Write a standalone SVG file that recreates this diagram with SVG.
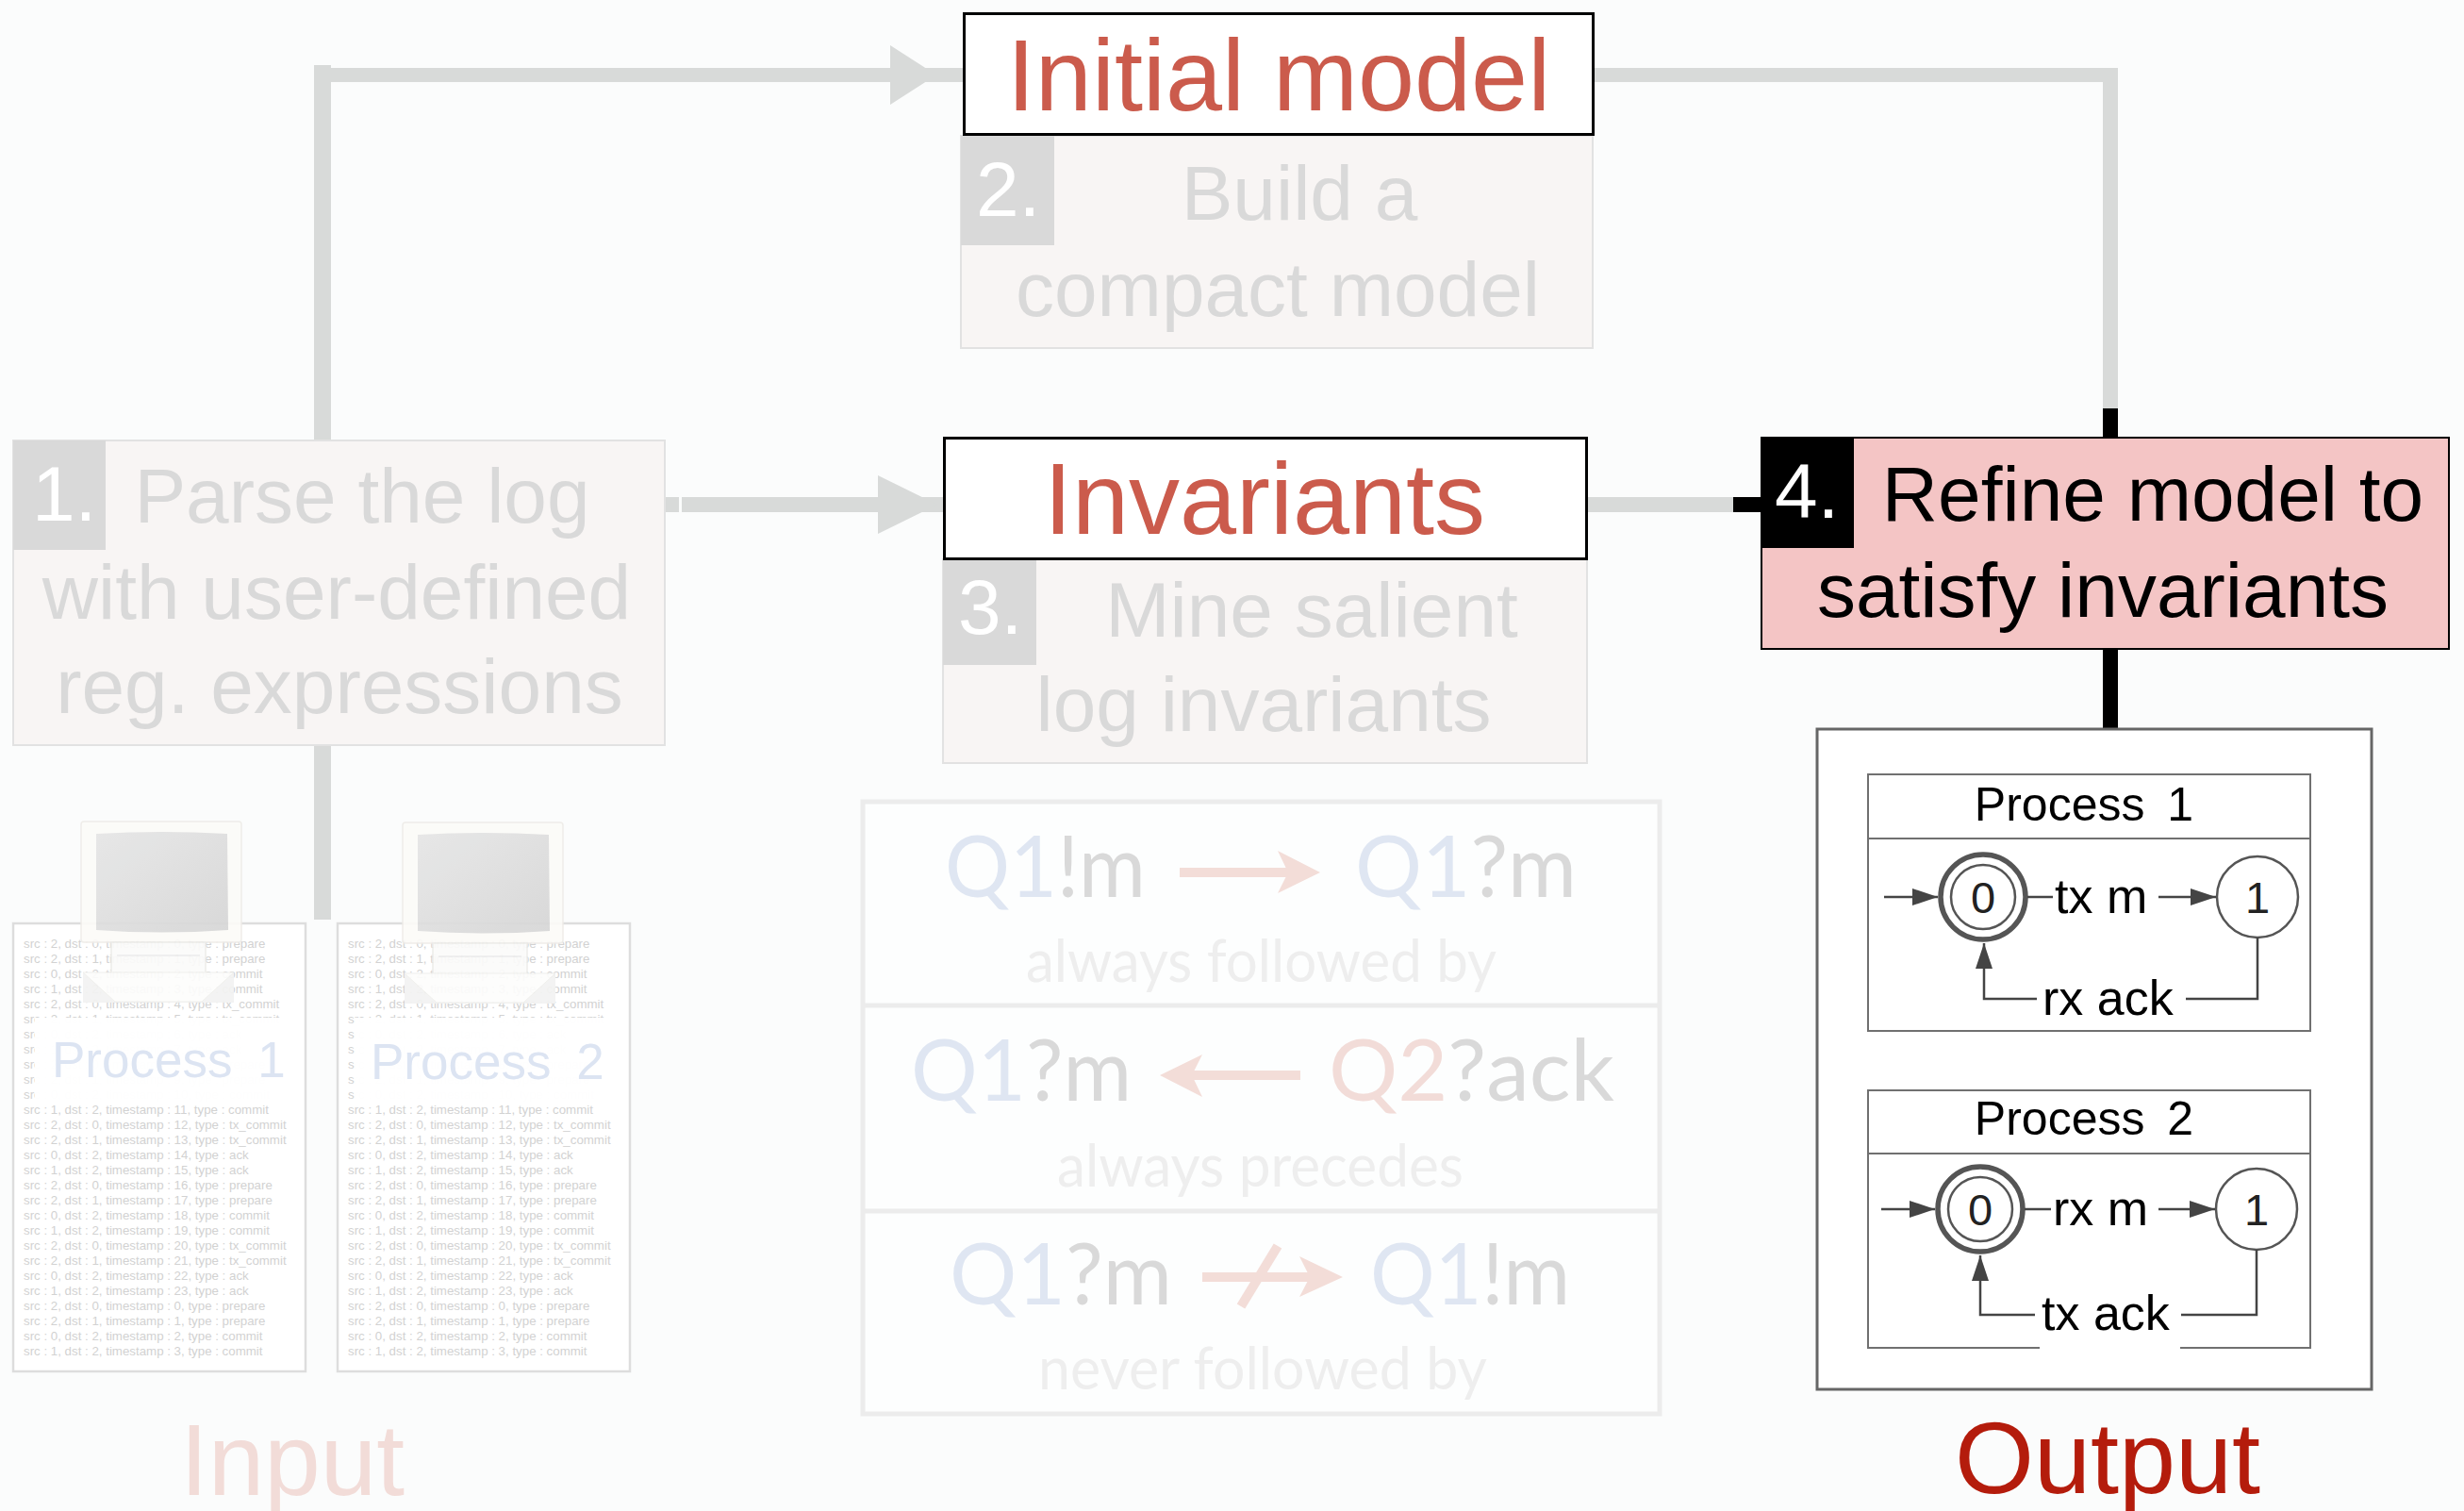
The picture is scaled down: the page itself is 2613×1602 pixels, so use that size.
<svg xmlns="http://www.w3.org/2000/svg" width="2613" height="1602" viewBox="0 0 2613 1602">
  <style>
    .sans { font-family: "Liberation Sans", Arial, sans-serif; }
    .gill { font-family: Lato, "Open Sans", sans-serif; }
    .step { fill: #f8f5f4; stroke: #e2e2e2; stroke-width: 2; }
    .numbox { fill: #d9d9d9; }
    .steptxt { font-family: "Liberation Sans", Arial, sans-serif; font-size: 82px; fill: #d9d9d9; text-anchor: middle; }
    .num { font-family: "Liberation Sans", Arial, sans-serif; font-size: 82px; fill: #ffffff; }
    .result { fill: #ffffff; stroke: #000000; stroke-width: 3; }
    .restxt { font-family: "Liberation Sans", Arial, sans-serif; font-size: 108px; fill: #cb5b4c; text-anchor: middle; }
    .flow { fill: #d8dad9; }
    .flowk { fill: #000000; }
    .log { fill: #ffffff; stroke: #dddddd; stroke-width: 2.5; }
    .logtxt { font-family: "Liberation Sans", Arial, sans-serif; font-size: 13.3px; fill: #d2d2d2; }
    .loglabel { font-family: "Liberation Sans", Arial, sans-serif; font-size: 53px; fill: #dce4f2; word-spacing: 12px; }
    .q { fill: #dfe6f2; }
    .q2 { fill: #f2dcd8; }
    .ev { fill: #d9d9d9; }
    .qt { font-size: 92px; }
    .sub { font-size: 62px; fill: #eeeeee; }
    .invline { stroke: #f3ddd8; stroke-width: 10; fill: none; }
    .invhead { fill: #f3ddd8; }
    .panel { fill: none; stroke: #ececec; stroke-width: 5; }
    .proc { fill: #ffffff; stroke: #707070; stroke-width: 2; }
    .ptitle { font-family: "Liberation Sans", Arial, sans-serif; font-size: 50px; fill: #000; text-anchor: middle; word-spacing: 10px; }
    .edge { stroke: #444444; stroke-width: 2.5; fill: none; }
    .elabel { font-family: "Liberation Sans", Arial, sans-serif; font-size: 52px; fill: #000; }
    .stnum { font-family: "Liberation Sans", Arial, sans-serif; font-size: 47px; fill: #222; text-anchor: middle; }
  </style>
  <defs>
    <marker id="ah" markerUnits="userSpaceOnUse" markerWidth="28" markerHeight="20" refX="27" refY="9" orient="auto">
      <path d="M0,0 L27,9 L0,18 z" fill="#444444"/>
    </marker>
    <linearGradient id="screen" x1="0" y1="0" x2="1" y2="1">
      <stop offset="0" stop-color="#e6e6e6"/>
      <stop offset="1" stop-color="#d6d6d6"/>
    </linearGradient>
    <!-- faded desktop computer icon -->
    <g id="computer">
      <rect x="86" y="871" width="170" height="128" rx="3" fill="#fcfbf8" stroke="#eeece8" stroke-width="1.5"/>
      <path d="M102,884 Q171,880 241,884 L242,986 Q171,991 102,986 z" fill="url(#screen)"/>
      <rect x="118" y="999" width="100" height="33" fill="#fbfbfa" stroke="#ecebe8" stroke-width="1.5"/>
      <line x1="124" y1="1013" x2="212" y2="1013" stroke="#eeeeee" stroke-width="2"/>
      <rect x="88" y="1031" width="160" height="32" fill="#f3f3f2"/>
      <path d="M88,1031 L248,1031 L214,1062 L122,1062 z" fill="#fdfdfc" stroke="#efefec" stroke-width="1"/>
    </g>
  </defs>

  <rect width="2613" height="1602" fill="#fbfcfc"/>

  <!-- connectors -->
  <g id="connectors">
    <!-- parse -> initial model -->
    <rect class="flow" x="333" y="69" width="18" height="398"/>
    <rect class="flow" x="333" y="72" width="689" height="15"/>
    <polygon class="flow" points="944,48 993,79.5 944,111"/>
    <!-- parse -> logs -->
    <rect class="flow" x="333" y="790" width="18" height="185"/>
    <!-- parse -> invariants -->
    <rect class="flow" x="705" y="527" width="15" height="16"/>
    <rect class="flow" x="723" y="527" width="278" height="16"/>
    <polygon class="flow" points="931,504 994,535 931,566"/>
    <!-- initial model -> refine -->
    <rect class="flow" x="1690" y="72" width="556" height="15"/>
    <rect class="flow" x="2230" y="72" width="16" height="361"/>
    <rect class="flowk" x="2230" y="433" width="16" height="31"/>
    <!-- invariants -> refine -->
    <rect class="flow" x="1683" y="527" width="155" height="16"/>
    <rect class="flowk" x="1838" y="527" width="30" height="16"/>
    <!-- refine -> output -->
    <rect class="flowk" x="2230" y="689" width="16" height="84"/>
  </g>

  <!-- step 1 -->
  <g id="step1">
    <rect class="step" x="14" y="467" width="691" height="323"/>
    <rect class="numbox" x="14" y="467" width="98" height="116"/>
    <text class="num" x="34" y="552">1.</text>
    <text class="steptxt" x="384" y="554">Parse the log</text>
    <text class="steptxt" x="357" y="656">with user-defined</text>
    <text class="steptxt" x="360" y="756">reg. expressions</text>
  </g>

  <!-- initial model + step 2 -->
  <g id="step2">
    <rect class="step" x="1019" y="144" width="670" height="225"/>
    <rect class="numbox" x="1019" y="144" width="99" height="116"/>
    <text class="num" x="1035" y="229">2.</text>
    <text class="steptxt" x="1378" y="233">Build a</text>
    <text class="steptxt" x="1355" y="335">compact model</text>
  </g>
  <g id="initial-model">
    <rect class="result" x="1022.5" y="14.5" width="667" height="128"/>
    <text class="restxt" x="1356" y="117">Initial model</text>
  </g>

  <!-- invariants + step 3 -->
  <g id="step3">
    <rect class="step" x="1000" y="593" width="683" height="216"/>
    <rect class="numbox" x="1000" y="593" width="99" height="112"/>
    <text class="num" x="1016" y="672">3.</text>
    <text class="steptxt" x="1391" y="675">Mine salient</text>
    <text class="steptxt" x="1340" y="775">log invariants</text>
  </g>
  <g id="invariants">
    <rect class="result" x="1001.5" y="464.5" width="681" height="128"/>
    <text class="restxt" x="1341" y="566">Invariants</text>
  </g>

  <!-- step 4 -->
  <g id="step4">
    <rect x="1868" y="464" width="729" height="224" fill="#f4c5c5" stroke="#000" stroke-width="2"/>
    <rect x="1867" y="463" width="99" height="118" fill="#000"/>
    <text class="num" x="1882" y="549">4.</text>
    <text class="steptxt" x="2283" y="552" style="fill:#000">Refine model to</text>
    <text class="steptxt" x="2230" y="654" style="fill:#000">satisfy invariants</text>
  </g>

  <!-- input logs -->
  <g id="log1">
    <rect class="log" x="14" y="979" width="310" height="475"/>
    <text class="logtxt" x="25" y="1005"><tspan x="25" dy="0">src : 2, dst : 0, timestamp : 0, type : prepare</tspan><tspan x="25" dy="16">src : 2, dst : 1, timestamp : 1, type : prepare</tspan><tspan x="25" dy="16">src : 0, dst : 2, timestamp : 2, type : commit</tspan><tspan x="25" dy="16">src : 1, dst : 2, timestamp : 3, type : commit</tspan><tspan x="25" dy="16">src : 2, dst : 0, timestamp : 4, type : tx_commit</tspan><tspan x="25" dy="16">src : 2, dst : 1, timestamp : 5, type : tx_commit</tspan><tspan x="25" dy="16">src : 0, dst : 2, timestamp : 6, type : ack</tspan><tspan x="25" dy="16">src : 1, dst : 2, timestamp : 7, type : ack</tspan><tspan x="25" dy="16">src : 2, dst : 0, timestamp : 8, type : prepare</tspan><tspan x="25" dy="16">src : 2, dst : 1, timestamp : 9, type : prepare</tspan><tspan x="25" dy="16">src : 0, dst : 2, timestamp : 10, type : commit</tspan><tspan x="25" dy="16">src : 1, dst : 2, timestamp : 11, type : commit</tspan><tspan x="25" dy="16">src : 2, dst : 0, timestamp : 12, type : tx_commit</tspan><tspan x="25" dy="16">src : 2, dst : 1, timestamp : 13, type : tx_commit</tspan><tspan x="25" dy="16">src : 0, dst : 2, timestamp : 14, type : ack</tspan><tspan x="25" dy="16">src : 1, dst : 2, timestamp : 15, type : ack</tspan><tspan x="25" dy="16">src : 2, dst : 0, timestamp : 16, type : prepare</tspan><tspan x="25" dy="16">src : 2, dst : 1, timestamp : 17, type : prepare</tspan><tspan x="25" dy="16">src : 0, dst : 2, timestamp : 18, type : commit</tspan><tspan x="25" dy="16">src : 1, dst : 2, timestamp : 19, type : commit</tspan><tspan x="25" dy="16">src : 2, dst : 0, timestamp : 20, type : tx_commit</tspan><tspan x="25" dy="16">src : 2, dst : 1, timestamp : 21, type : tx_commit</tspan><tspan x="25" dy="16">src : 0, dst : 2, timestamp : 22, type : ack</tspan><tspan x="25" dy="16">src : 1, dst : 2, timestamp : 23, type : ack</tspan><tspan x="25" dy="16">src : 2, dst : 0, timestamp : 0, type : prepare</tspan><tspan x="25" dy="16">src : 2, dst : 1, timestamp : 1, type : prepare</tspan><tspan x="25" dy="16">src : 0, dst : 2, timestamp : 2, type : commit</tspan><tspan x="25" dy="16">src : 1, dst : 2, timestamp : 3, type : commit</tspan></text>
    <rect x="37" y="1079" width="272" height="90" fill="#ffffff" opacity="0.96"/>
    <text class="loglabel" x="55" y="1142">Process 1</text>
    <use href="#computer" opacity="0.92"/>
  </g>

  <g id="log2">
    <rect class="log" x="358" y="979" width="310" height="475"/>
    <text class="logtxt" x="369" y="1005"><tspan x="369" dy="0">src : 2, dst : 0, timestamp : 0, type : prepare</tspan><tspan x="369" dy="16">src : 2, dst : 1, timestamp : 1, type : prepare</tspan><tspan x="369" dy="16">src : 0, dst : 2, timestamp : 2, type : commit</tspan><tspan x="369" dy="16">src : 1, dst : 2, timestamp : 3, type : commit</tspan><tspan x="369" dy="16">src : 2, dst : 0, timestamp : 4, type : tx_commit</tspan><tspan x="369" dy="16">src : 2, dst : 1, timestamp : 5, type : tx_commit</tspan><tspan x="369" dy="16">src : 0, dst : 2, timestamp : 6, type : ack</tspan><tspan x="369" dy="16">src : 1, dst : 2, timestamp : 7, type : ack</tspan><tspan x="369" dy="16">src : 2, dst : 0, timestamp : 8, type : prepare</tspan><tspan x="369" dy="16">src : 2, dst : 1, timestamp : 9, type : prepare</tspan><tspan x="369" dy="16">src : 0, dst : 2, timestamp : 10, type : commit</tspan><tspan x="369" dy="16">src : 1, dst : 2, timestamp : 11, type : commit</tspan><tspan x="369" dy="16">src : 2, dst : 0, timestamp : 12, type : tx_commit</tspan><tspan x="369" dy="16">src : 2, dst : 1, timestamp : 13, type : tx_commit</tspan><tspan x="369" dy="16">src : 0, dst : 2, timestamp : 14, type : ack</tspan><tspan x="369" dy="16">src : 1, dst : 2, timestamp : 15, type : ack</tspan><tspan x="369" dy="16">src : 2, dst : 0, timestamp : 16, type : prepare</tspan><tspan x="369" dy="16">src : 2, dst : 1, timestamp : 17, type : prepare</tspan><tspan x="369" dy="16">src : 0, dst : 2, timestamp : 18, type : commit</tspan><tspan x="369" dy="16">src : 1, dst : 2, timestamp : 19, type : commit</tspan><tspan x="369" dy="16">src : 2, dst : 0, timestamp : 20, type : tx_commit</tspan><tspan x="369" dy="16">src : 2, dst : 1, timestamp : 21, type : tx_commit</tspan><tspan x="369" dy="16">src : 0, dst : 2, timestamp : 22, type : ack</tspan><tspan x="369" dy="16">src : 1, dst : 2, timestamp : 23, type : ack</tspan><tspan x="369" dy="16">src : 2, dst : 0, timestamp : 0, type : prepare</tspan><tspan x="369" dy="16">src : 2, dst : 1, timestamp : 1, type : prepare</tspan><tspan x="369" dy="16">src : 0, dst : 2, timestamp : 2, type : commit</tspan><tspan x="369" dy="16">src : 1, dst : 2, timestamp : 3, type : commit</tspan></text>
    <rect x="376" y="1079" width="275" height="90" fill="#ffffff" opacity="0.96"/>
    <text class="loglabel" x="393" y="1144">Process 2</text>
    <use href="#computer" transform="translate(341,1)" opacity="0.92"/>
  </g>

  <g id="input-label">
    <text class="sans" x="310" y="1585" font-size="107" fill="#f2dcd8" text-anchor="middle">Input</text>
  </g>

  <!-- mined invariants -->
  <g id="invariant-list" class="gill">
    <rect x="915" y="850" width="845" height="649" fill="#ffffff" opacity="0.5"/>
    <rect class="panel" x="915" y="850" width="845" height="649"/>
    <line x1="915" y1="1066" x2="1760" y2="1066" stroke="#ececec" stroke-width="5"/>
    <line x1="915" y1="1284" x2="1760" y2="1284" stroke="#ececec" stroke-width="5"/>

    <text class="qt" x="1002" y="951" textLength="213" lengthAdjust="spacingAndGlyphs"><tspan class="q">Q1</tspan><tspan class="ev">!m</tspan></text>
    <line class="invline" x1="1251" y1="925" x2="1372" y2="925"/>
    <polygon class="invhead" points="1355,902 1400,925 1355,947 1366,925"/>
    <text class="qt" x="1437" y="951" textLength="235" lengthAdjust="spacingAndGlyphs"><tspan class="q">Q1</tspan><tspan class="ev">?m</tspan></text>
    <text class="sub" x="1088" y="1041" textLength="499" lengthAdjust="spacingAndGlyphs">always followed by</text>

    <text class="qt" x="966" y="1167" textLength="234" lengthAdjust="spacingAndGlyphs"><tspan class="q">Q1</tspan><tspan class="ev">?m</tspan></text>
    <line class="invline" x1="1258" y1="1140" x2="1379" y2="1140"/>
    <polygon class="invhead" points="1275,1118 1230,1140 1275,1163 1264,1140"/>
    <text class="qt" x="1409" y="1167" textLength="303" lengthAdjust="spacingAndGlyphs"><tspan class="q2">Q2</tspan><tspan class="ev">?ack</tspan></text>
    <text class="sub" x="1121" y="1258" textLength="431" lengthAdjust="spacingAndGlyphs">always precedes</text>

    <text class="qt" x="1007" y="1383" textLength="236" lengthAdjust="spacingAndGlyphs"><tspan class="q">Q1</tspan><tspan class="ev">?m</tspan></text>
    <line class="invline" x1="1275" y1="1354" x2="1396" y2="1354"/>
    <polygon class="invhead" points="1378,1332 1424,1354 1378,1375 1389,1354"/>
    <line class="invline" x1="1316" y1="1385" x2="1355" y2="1321"/>
    <text class="qt" x="1453" y="1383" textLength="212" lengthAdjust="spacingAndGlyphs"><tspan class="q">Q1</tspan><tspan class="ev">!m</tspan></text>
    <text class="sub" x="1101" y="1473" textLength="476" lengthAdjust="spacingAndGlyphs">never followed by</text>
  </g>

  <!-- output: refined process models -->
  <g id="output">
    <rect x="1927" y="773" width="588" height="700" fill="#ffffff" stroke="#666666" stroke-width="3"/>

    <g id="process1-model">
      <rect class="proc" x="1981" y="821" width="469" height="272"/>
      <line x1="1981" y1="889" x2="2450" y2="889" stroke="#707070" stroke-width="2"/>
      <text class="ptitle" x="2210" y="870">Process 1</text>
      <circle cx="2103" cy="951" r="45" fill="#fff" stroke="#555" stroke-width="5.5"/>
      <circle cx="2103" cy="951" r="34" fill="none" stroke="#555" stroke-width="2.5"/>
      <text class="stnum" x="2103" y="968">0</text>
      <circle cx="2394" cy="951" r="43" fill="#fff" stroke="#555" stroke-width="2.5"/>
      <text class="stnum" x="2394" y="968">1</text>
      <line class="edge" x1="1998" y1="951" x2="2055" y2="951" marker-end="url(#ah)"/>
      <line class="edge" x1="2150" y1="951" x2="2177" y2="951"/>
      <text class="elabel" x="2179" y="968">tx m</text>
      <line class="edge" x1="2289" y1="951" x2="2350" y2="951" marker-end="url(#ah)"/>
      <path class="edge" d="M2394,994 V1059 H2318"/>
      <text class="elabel" x="2166" y="1076">rx ack</text>
      <path class="edge" d="M2160,1059 H2104 V1000" marker-end="url(#ah)"/>
    </g>

    <g id="process2-model">
      <rect class="proc" x="1981" y="1156" width="469" height="273"/>
      <line x1="1981" y1="1223" x2="2450" y2="1223" stroke="#707070" stroke-width="2"/>
      <text class="ptitle" x="2210" y="1203">Process 2</text>
      <circle cx="2100" cy="1282" r="45" fill="#fff" stroke="#555" stroke-width="5.5"/>
      <circle cx="2100" cy="1282" r="34" fill="none" stroke="#555" stroke-width="2.5"/>
      <text class="stnum" x="2100" y="1299">0</text>
      <circle cx="2393" cy="1282" r="43" fill="#fff" stroke="#555" stroke-width="2.5"/>
      <text class="stnum" x="2393" y="1299">1</text>
      <line class="edge" x1="1995" y1="1282" x2="2052" y2="1282" marker-end="url(#ah)"/>
      <line class="edge" x1="2147" y1="1282" x2="2175" y2="1282"/>
      <text class="elabel" x="2177" y="1299">rx m</text>
      <line class="edge" x1="2289" y1="1282" x2="2349" y2="1282" marker-end="url(#ah)"/>
      <path class="edge" d="M2393,1325 V1394 H2313"/>
      <rect x="2163" y="1420" width="149" height="12" fill="#ffffff"/>
      <text class="elabel" x="2165" y="1410">tx ack</text>
      <path class="edge" d="M2158,1394 H2100 V1331" marker-end="url(#ah)"/>
    </g>

    <text class="sans" x="2235" y="1583" font-size="108" fill="#b41c0c" text-anchor="middle">Output</text>
  </g>
</svg>
